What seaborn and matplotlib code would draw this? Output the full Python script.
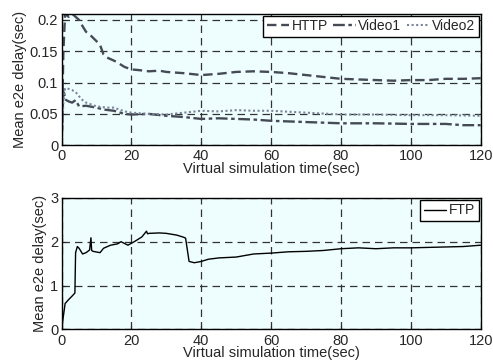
import matplotlib
matplotlib.use("Agg")
import matplotlib.pyplot as plt
import numpy as np
import pandas as pd
import seaborn as sns

# top panel: mean end-to-end delay per flow (sec)
http_t = [0, 0.5, 1, 2, 3, 4, 5, 6, 7, 8, 10, 11, 12, 13, 15, 16, 18, 20, 22, 25, 28, 30, 35, 40, 45, 50, 55, 60, 65, 70, 75, 80, 85, 90, 95, 100, 105, 110, 115, 120]
http_v = [0, 0.15, 0.21, 0.205, 0.21, 0.205, 0.2, 0.19, 0.181, 0.177, 0.166, 0.16, 0.145, 0.14, 0.135, 0.132, 0.125, 0.121, 0.12, 0.118, 0.119, 0.117, 0.115, 0.112, 0.114, 0.117, 0.118, 0.117, 0.115, 0.112, 0.109, 0.106, 0.105, 0.104, 0.103, 0.104, 0.104, 0.106, 0.106, 0.107]
video1_t = [0, 0.5, 1, 2, 3, 4, 5, 7, 10, 12, 15, 18, 20, 25, 30, 35, 40, 45, 50, 55, 60, 70, 80, 90, 100, 110, 115, 120]
video1_v = [0, 0.09, 0.073, 0.07, 0.068, 0.072, 0.062, 0.063, 0.06, 0.057, 0.055, 0.05, 0.049, 0.05, 0.047, 0.045, 0.042, 0.043, 0.042, 0.041, 0.039, 0.037, 0.035, 0.035, 0.034, 0.034, 0.032, 0.032]
video2_t = [0, 0.5, 1, 2, 3, 4, 5, 6, 7, 10, 13, 15, 18, 20, 25, 30, 35, 40, 45, 50, 55, 60, 70, 80, 90, 100, 110, 120]
video2_v = [0, 0.07, 0.091, 0.09, 0.088, 0.085, 0.078, 0.072, 0.068, 0.062, 0.06, 0.06, 0.054, 0.052, 0.05, 0.049, 0.052, 0.055, 0.054, 0.056, 0.055, 0.055, 0.052, 0.049, 0.049, 0.048, 0.048, 0.047]

# bottom panel: FTP delay (sec)
ftp_t = [0, 0.5, 1, 2, 3, 3.8, 4, 4.5, 5, 6, 7, 8, 8.4, 8.6, 9, 11, 12, 14, 16, 17, 18, 19, 21, 23, 24.3, 24.6, 25, 28, 30, 33, 35, 35.5, 36.5, 38, 40, 42, 45, 50, 55, 60, 65, 70, 75, 80, 85, 90, 95, 100, 105, 110, 115, 120]
ftp_v = [0, 0.3, 0.59, 0.68, 0.76, 0.83, 1.75, 1.89, 1.85, 1.72, 1.75, 1.81, 2.09, 1.8, 1.78, 1.75, 1.85, 1.92, 1.95, 2.0, 1.96, 1.92, 2.01, 2.11, 2.24, 2.18, 2.19, 2.2, 2.19, 2.15, 2.1, 2.08, 1.55, 1.52, 1.55, 1.6, 1.63, 1.65, 1.72, 1.74, 1.77, 1.78, 1.8, 1.84, 1.86, 1.84, 1.86, 1.86, 1.87, 1.88, 1.89, 1.92]

sns.set_style("ticks")
plt.rcParams["font.family"] = ["Liberation Sans", "DejaVu Sans"]
plt.rcParams["font.size"] = 10.5

line_col = "#454a55"
bg = "#eefeff"

fig, (ax1, ax2) = plt.subplots(2, 1, figsize=(4.93, 3.6), dpi=100)
fig.subplots_adjust(left=0.125, right=0.975, top=0.962, bottom=0.085, hspace=0.4)

sns.lineplot(x=http_t, y=http_v, ax=ax1, color=line_col, linestyle=(0, (4, 2)), linewidth=1.7, label="HTTP")
sns.lineplot(x=video1_t, y=video1_v, ax=ax1, color=line_col, linestyle=(0, (5, 1.5, 1.5, 1.5)), linewidth=1.7, label="Video1")
sns.lineplot(x=video2_t, y=video2_v, ax=ax1, color="#7a8496", linestyle=(0, (1, 1.2)), linewidth=1.5, label="Video2")
sns.lineplot(x=ftp_t, y=ftp_v, ax=ax2, color="black", linewidth=1.0, label="FTP")

for ax in (ax1, ax2):
    ax.set_facecolor(bg)
    ax.set_xlim(0, 120)
    ax.set_xticks([0, 20, 40, 60, 80, 100, 120])
    ax.grid(True, color="#333333", linestyle=(0, (6, 4)), linewidth=0.9)
    ax.set_xlabel("Virtual simulation time(sec)", labelpad=-1)
    ax.set_ylabel("Mean e2e delay(sec)", labelpad=2)
    ax.tick_params(direction="in", length=3)
    ax.tick_params(axis="x", pad=3)
    ax.tick_params(axis="y", pad=2.5)
    for s in ax.spines.values():
        s.set_color("black")
        s.set_linewidth(1.0)

ax1.set_ylim(0, 0.21)
ax1.set_yticks([0, 0.05, 0.1, 0.15, 0.2])
ax1.set_yticklabels(["0", "0.05", "0.1", "0.15", "0.2"])
ax2.set_ylim(0, 3)
ax2.set_yticks([0, 1, 2, 3])

leg1 = ax1.legend(loc="upper right", ncol=3, frameon=True, fancybox=False, fontsize=10, handlelength=1.6,
                  handletextpad=0.2, columnspacing=0.4, borderpad=0.25, borderaxespad=0.15)
leg2 = ax2.legend(loc="upper right", frameon=True, fancybox=False, fontsize=10, handlelength=1.6,
                  handletextpad=0.2, borderpad=0.25, borderaxespad=0.15)
for leg in (leg1, leg2):
    leg.get_frame().set_edgecolor("black")
    leg.get_frame().set_facecolor("white")
    leg.get_frame().set_alpha(1)

fig.savefig("out.png", dpi=100)
